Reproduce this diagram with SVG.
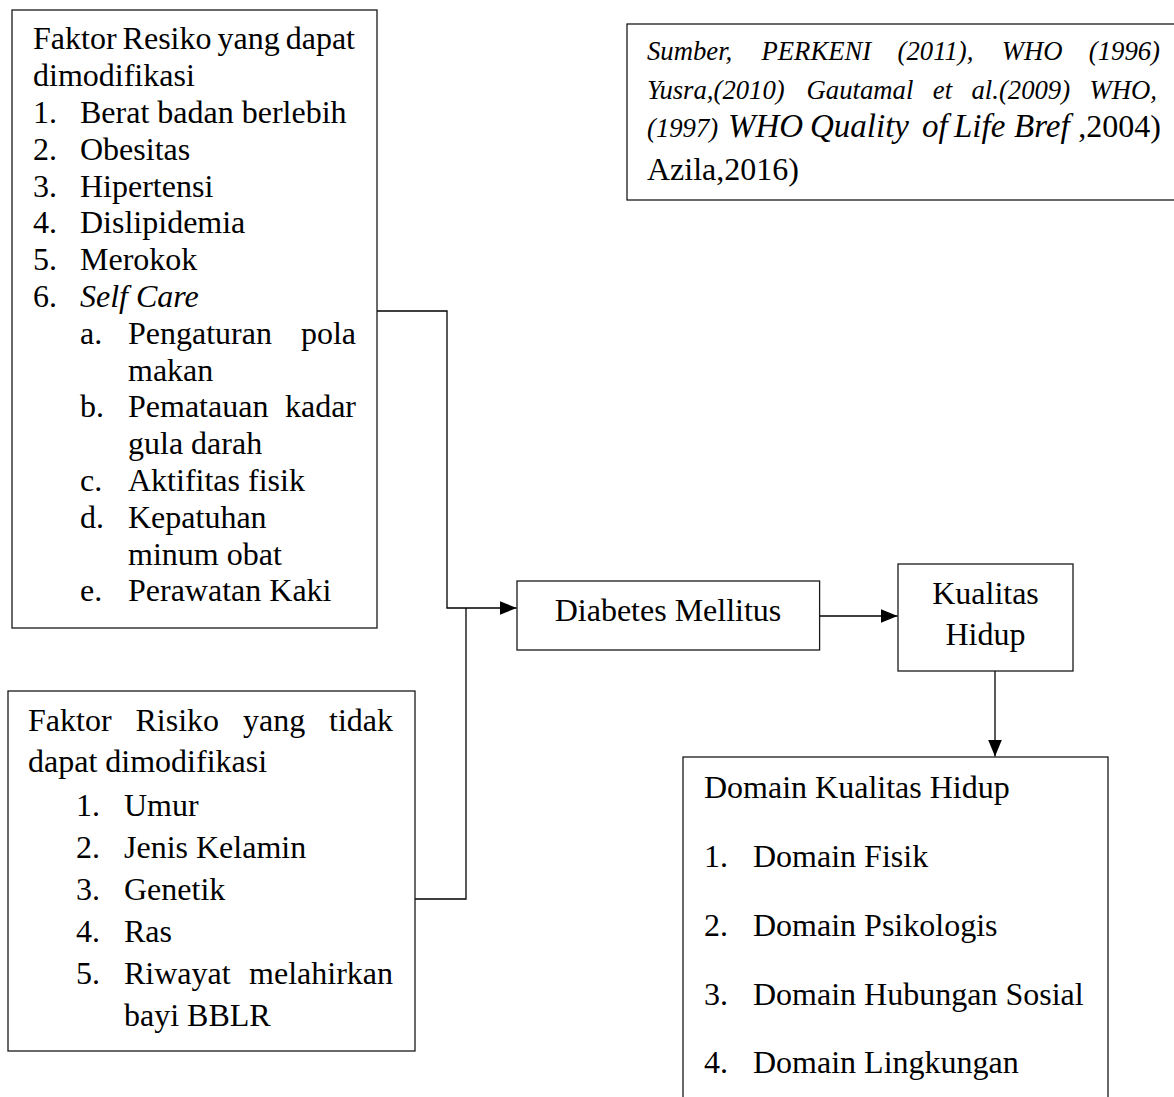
<svg xmlns="http://www.w3.org/2000/svg" width="1174" height="1097" viewBox="0 0 1174 1097">
<style>
  text { font-family: "Liberation Serif", "Times New Roman", serif; font-size: 32px; fill: #000; }
  .it { font-style: italic; }
  .sm { font-size: 26.7px; }
  .ti { font-style: italic; font-size: 33px; }
  .box { fill: #fff; stroke: #1a1a1a; stroke-width: 1.3; }
  .conn { fill: none; stroke: #000; stroke-width: 1.3; }
  .end { text-anchor: end; }
  .mid { text-anchor: middle; }
</style>
<defs>
  <marker id="arr" markerUnits="userSpaceOnUse" markerWidth="18" markerHeight="16" refX="17" refY="7" orient="auto">
    <path d="M0,0 L17,7 L0,14 z" fill="#000"/>
  </marker>
</defs>
<rect width="1174" height="1097" fill="#fff"/>

<g id="connectors">
  <path class="conn" d="M377,311 H447 V608 H516.5" marker-end="url(#arr)"/>
  <path class="conn" d="M415,899 H466 V608"/>
  <path class="conn" d="M819.6,616 H897.5" marker-end="url(#arr)"/>
  <path class="conn" d="M995,671 V756.5" marker-end="url(#arr)"/>
</g>

<g id="node-modifiable">
  <rect class="box" x="12" y="10" width="365" height="618"/>
  <text x="33" y="49.4">Faktor</text>
  <text x="122.6" y="49.4">Resiko</text>
  <text x="217.5" y="49.4">yang</text>
  <text class="end" x="355" y="49.4">dapat</text>
  <text x="33" y="86.2">dimodifikasi</text>
  <text x="33" y="123">1.</text><text x="80" y="123">Berat badan berlebih</text>
  <text x="33" y="159.8">2.</text><text x="80" y="159.8">Obesitas</text>
  <text x="33" y="196.6">3.</text><text x="80" y="196.6">Hipertensi</text>
  <text x="33" y="233.4">4.</text><text x="80" y="233.4">Dislipidemia</text>
  <text x="33" y="270.2">5.</text><text x="80" y="270.2">Merokok</text>
  <text x="33" y="307">6.</text><text class="it" x="80" y="307">Self Care</text>
  <text x="80" y="343.8">a.</text><text x="128" y="343.8">Pengaturan</text><text class="end" x="356" y="343.8">pola</text>
  <text x="128" y="380.6">makan</text>
  <text x="80" y="417.4">b.</text><text x="128" y="417.4">Pematauan</text><text class="end" x="356" y="417.4">kadar</text>
  <text x="128" y="454.2">gula darah</text>
  <text x="80" y="491">c.</text><text x="128" y="491">Aktifitas fisik</text>
  <text x="80" y="527.8">d.</text><text x="128" y="527.8">Kepatuhan</text>
  <text x="128" y="564.6">minum obat</text>
  <text x="80" y="601.4">e.</text><text x="128" y="601.4">Perawatan Kaki</text>
</g>

<g id="node-nonmodifiable">
  <rect class="box" x="8" y="691" width="407" height="360"/>
  <text x="28" y="731">Faktor</text>
  <text x="135.5" y="731">Risiko</text>
  <text x="243" y="731">yang</text>
  <text class="end" x="393" y="731">tidak</text>
  <text x="28" y="772">dapat dimodifikasi</text>
  <text x="76" y="816">1.</text><text x="124" y="816">Umur</text>
  <text x="76" y="858">2.</text><text x="124" y="858">Jenis Kelamin</text>
  <text x="76" y="900">3.</text><text x="124" y="900">Genetik</text>
  <text x="76" y="942">4.</text><text x="124" y="942">Ras</text>
  <text x="76" y="984">5.</text><text x="124" y="984">Riwayat</text><text class="end" x="393" y="984">melahirkan</text>
  <text x="124" y="1026">bayi BBLR</text>
</g>

<g id="node-source">
  <rect class="box" x="627" y="24" width="560" height="176"/>
  <text class="it sm" x="647" y="60">Sumber,</text>
  <text class="it sm" x="761.5" y="60">PERKENI</text>
  <text class="it sm" x="897.6" y="60">(2011),</text>
  <text class="it sm" x="1001.8" y="60">WHO</text>
  <text class="it sm end" x="1160" y="60">(1996)</text>
  <text class="it sm" x="647" y="99">Yusra,(2010)</text>
  <text class="it sm" x="806.6" y="99">Gautamal</text>
  <text class="it sm" x="932.8" y="99">et</text>
  <text class="it sm" x="971.5" y="99">al.(2009)</text>
  <text class="it sm end" x="1157" y="99">WHO,</text>
  <text class="it sm" x="647" y="137">(1997)</text>
  <text class="ti" x="728" y="137">WHO</text>
  <text class="ti" x="810" y="137">Quality</text>
  <text class="ti" x="922" y="137">of</text>
  <text class="ti" x="954" y="137">Life</text>
  <text class="ti" x="1014" y="137">Bref</text>
  <text class="end" x="1161" y="137">,2004)</text>
  <text x="647" y="180">Azila,2016)</text>
</g>

<g id="node-diabetes">
  <rect class="box" x="517" y="581" width="302.6" height="69"/>
  <text class="mid" x="668" y="621">Diabetes Mellitus</text>
</g>

<g id="node-kualitas">
  <rect class="box" x="898" y="564" width="175" height="107"/>
  <text class="mid" x="985.5" y="604">Kualitas</text>
  <text class="mid" x="985.5" y="645">Hidup</text>
</g>

<g id="node-domain">
  <rect class="box" x="683" y="757" width="425" height="360"/>
  <text x="704" y="798">Domain Kualitas Hidup</text>
  <text x="704" y="867">1.</text><text x="753" y="867">Domain Fisik</text>
  <text x="704" y="936">2.</text><text x="753" y="936">Domain Psikologis</text>
  <text x="704" y="1005">3.</text><text x="753" y="1005">Domain Hubungan Sosial</text>
  <text x="704" y="1073">4.</text><text x="753" y="1073">Domain Lingkungan</text>
</g>
</svg>
